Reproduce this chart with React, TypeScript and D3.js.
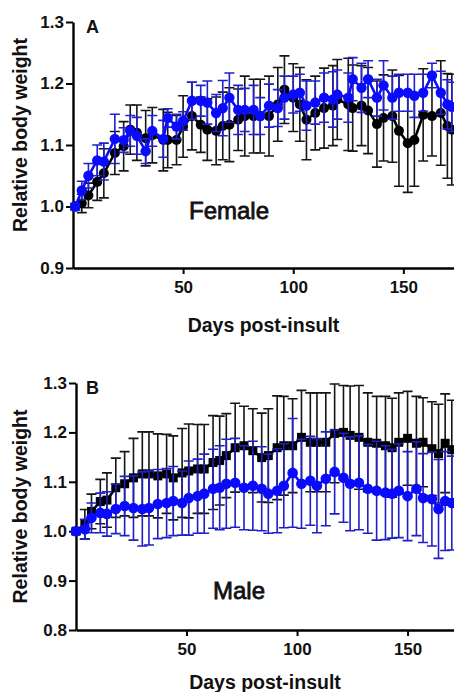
import React, { useEffect, useRef } from 'react'
import * as d3 from 'd3'

// panel A - female
const daysF = [1, 4, 7, 11, 14, 19, 23, 26, 29, 33, 36, 41, 43, 47, 50, 54, 58, 61, 65, 68, 71, 75, 78, 82, 85, 89, 93, 96, 100, 103, 106, 110, 114, 118, 120, 125, 127, 131, 134, 138, 141, 145, 148, 152, 155, 159, 163, 167, 170, 172]
const femaleBlack = [1.0, 1.005, 1.018, 1.04, 1.054, 1.087, 1.098, 1.125, 1.12, 1.111, 1.116, 1.108, 1.108, 1.108, 1.13, 1.147, 1.133, 1.125, 1.123, 1.131, 1.133, 1.141, 1.147, 1.147, 1.147, 1.147, 1.166, 1.19, 1.177, 1.166, 1.141, 1.152, 1.16, 1.164, 1.174, 1.166, 1.16, 1.164, 1.156, 1.134, 1.144, 1.147, 1.123, 1.103, 1.108, 1.149, 1.147, 1.152, 1.131, 1.125]
const femaleBlackSD = [0.005, 0.015, 0.02, 0.03, 0.04, 0.035, 0.04, 0.04, 0.045, 0.045, 0.045, 0.05, 0.045, 0.04, 0.05, 0.055, 0.045, 0.05, 0.055, 0.055, 0.06, 0.05, 0.065, 0.06, 0.06, 0.065, 0.06, 0.055, 0.055, 0.06, 0.065, 0.06, 0.065, 0.065, 0.065, 0.075, 0.07, 0.065, 0.07, 0.07, 0.07, 0.075, 0.09, 0.08, 0.075, 0.075, 0.065, 0.085, 0.085, 0.09]
const femaleBlue = [1.0, 1.026, 1.05, 1.075, 1.073, 1.11, 1.108, 1.123, 1.115, 1.09, 1.123, 1.11, 1.144, 1.13, 1.139, 1.172, 1.172, 1.169, 1.152, 1.16, 1.177, 1.157, 1.157, 1.157, 1.147, 1.164, 1.16, 1.177, 1.182, 1.185, 1.164, 1.169, 1.177, 1.174, 1.182, 1.177, 1.207, 1.193, 1.207, 1.177, 1.197, 1.177, 1.185, 1.185, 1.18, 1.185, 1.213, 1.185, 1.166, 1.162]
const femaleBlueSD = [0.005, 0.015, 0.02, 0.025, 0.03, 0.04, 0.02, 0.025, 0.03, 0.02, 0.025, 0.03, 0.015, 0.02, 0.015, 0.03, 0.025, 0.035, 0.03, 0.045, 0.04, 0.04, 0.035, 0.04, 0.03, 0.035, 0.03, 0.035, 0.03, 0.03, 0.04, 0.035, 0.04, 0.045, 0.04, 0.04, 0.035, 0.04, 0.03, 0.03, 0.04, 0.035, 0.03, 0.03, 0.035, 0.03, 0.02, 0.035, 0.04, 0.04]

// panel B - male
const daysM = [0, 4, 7, 11, 14, 18, 22, 26, 30, 33, 37, 41, 44, 48, 51, 55, 58, 62, 65, 68, 72, 76, 80, 84, 87, 91, 94, 98, 102, 106, 109, 113, 117, 121, 124, 128, 132, 136, 140, 143, 146, 150, 154, 157, 161, 164, 167, 170]
const maleBlack = [1.0, 1.014, 1.04, 1.06, 1.063, 1.088, 1.096, 1.108, 1.116, 1.116, 1.112, 1.116, 1.108, 1.118, 1.122, 1.126, 1.126, 1.139, 1.143, 1.153, 1.169, 1.173, 1.163, 1.149, 1.153, 1.169, 1.173, 1.173, 1.19, 1.18, 1.18, 1.18, 1.198, 1.2, 1.194, 1.19, 1.18, 1.178, 1.173, 1.169, 1.18, 1.188, 1.178, 1.18, 1.167, 1.157, 1.178, 1.165]
const maleBlackSD = [0.005, 0.03, 0.035, 0.045, 0.055, 0.06, 0.065, 0.08, 0.085, 0.085, 0.085, 0.08, 0.085, 0.09, 0.095, 0.09, 0.09, 0.095, 0.09, 0.085, 0.09, 0.08, 0.085, 0.09, 0.095, 0.105, 0.1, 0.095, 0.095, 0.1, 0.1, 0.1, 0.1, 0.095, 0.1, 0.105, 0.1, 0.095, 0.1, 0.1, 0.1, 0.095, 0.095, 0.09, 0.095, 0.1, 0.1, 0.1]
const maleBlue = [1.0, 1.004, 1.027, 1.037, 1.035, 1.045, 1.051, 1.047, 1.045, 1.047, 1.055, 1.057, 1.061, 1.057, 1.067, 1.071, 1.076, 1.086, 1.088, 1.096, 1.098, 1.088, 1.092, 1.086, 1.076, 1.082, 1.092, 1.118, 1.096, 1.102, 1.092, 1.106, 1.12, 1.108, 1.096, 1.098, 1.086, 1.082, 1.078, 1.076, 1.082, 1.071, 1.086, 1.067, 1.065, 1.045, 1.061, 1.057]
const maleBlueSD = [0.005, 0.02, 0.03, 0.04, 0.045, 0.05, 0.06, 0.065, 0.075, 0.075, 0.07, 0.07, 0.07, 0.065, 0.075, 0.075, 0.08, 0.08, 0.085, 0.09, 0.09, 0.085, 0.09, 0.085, 0.08, 0.085, 0.085, 0.11, 0.09, 0.09, 0.095, 0.095, 0.085, 0.09, 0.095, 0.095, 0.09, 0.1, 0.095, 0.09, 0.095, 0.09, 0.095, 0.09, 0.095, 0.1, 0.1, 0.095]

const xTicks = [50, 100, 150]
const yTicksF = [0.9, 1.0, 1.1, 1.2, 1.3]
const yTicksM = [0.8, 0.9, 1.0, 1.1, 1.2, 1.3]

const BLUE = '#0a0aff'
const font = "'Liberation Sans', Arial, sans-serif"

function drawPanel(svg, p) {
  let x = d3.scaleLinear().domain(p.xDomain).range(p.xRange)
  let y = d3.scaleLinear().domain(p.yDomain).range(p.yRange)
  let g = svg.append('g')

  // axes
  let yAxis = g.append('g')
    .attr('transform', `translate(${p.xRange[0]},0)`)
    .call(d3.axisLeft(y).tickValues(p.yTicks).tickFormat(d3.format('.1f')).tickSize(7).tickSizeOuter(0).tickPadding(2))
  let xAxis = g.append('g')
    .attr('transform', `translate(0,${p.yRange[0]})`)
    .call(d3.axisBottom(x).tickValues(xTicks).tickSize(6).tickSizeOuter(0).tickPadding(7))
  for (let ax of [yAxis, xAxis]) {
    ax.select('.domain').attr('stroke', '#000').attr('stroke-width', 2.4)
    ax.selectAll('.tick line').attr('stroke', '#000').attr('stroke-width', 2)
    ax.selectAll('.tick text')
      .attr('fill', '#111')
      .attr('font-family', font)
      .attr('font-weight', 'bold')
      .attr('font-size', 17)
  }

  // series
  for (let s of p.series) {
    let pts = p.days.map((d, i) => ({ d, v: s.values[i], sd: s.sd[i] }))
    let eb = g.append('g').attr('stroke', s.barColor).attr('stroke-width', 1.6).attr('fill', 'none')
    eb.selectAll('path').data(pts).join('path')
      .attr('d', (q) => {
        let cx = x(q.d), y0 = y(q.v - q.sd), y1 = y(q.v + q.sd)
        return `M${cx},${y0}V${y1}M${cx - 5},${y1}H${cx + 5}M${cx - 5},${y0}H${cx + 5}`
      })

    g.append('path')
      .datum(pts)
      .attr('fill', 'none')
      .attr('stroke', s.color)
      .attr('stroke-width', 2.6)
      .attr('d', d3.line().x((q) => x(q.d)).y((q) => y(q.v)))

    if (s.shape === 'square') {
      g.append('g').selectAll('rect').data(pts).join('rect')
        .attr('x', (q) => x(q.d) - 4.5)
        .attr('y', (q) => y(q.v) - 4.5)
        .attr('width', 9)
        .attr('height', 9)
        .attr('fill', s.color)
    } else {
      g.append('g').selectAll('circle').data(pts).join('circle')
        .attr('cx', (q) => x(q.d))
        .attr('cy', (q) => y(q.v))
        .attr('r', s.r)
        .attr('fill', s.color)
    }
  }

  // labels
  let cy = (p.yRange[0] + p.yRange[1]) / 2
  g.append('text')
    .attr('transform', `translate(27,${cy - p.titleShift}) rotate(-90)`)
    .attr('text-anchor', 'middle')
    .attr('font-family', font)
    .attr('font-weight', 'bold')
    .attr('font-size', 19.5)
    .attr('fill', '#111')
    .text('Relative body weight')

  g.append('text')
    .attr('x', (p.xRange[0] + p.xRange[1]) / 2)
    .attr('y', p.xTitleY)
    .attr('text-anchor', 'middle')
    .attr('font-family', font)
    .attr('font-weight', 'bold')
    .attr('font-size', 19.5)
    .attr('fill', '#111')
    .text('Days post-insult')

  g.append('text')
    .attr('x', 86)
    .attr('y', p.yRange[1] + 11)
    .attr('font-family', font)
    .attr('font-weight', 'bold')
    .attr('font-size', 18)
    .attr('fill', '#111')
    .text(p.letter)

  g.append('text')
    .attr('x', p.sexX)
    .attr('y', p.sexY)
    .attr('text-anchor', 'middle')
    .attr('font-family', font)
    .attr('font-size', 24)
    .attr('fill', '#111')
    .attr('stroke', '#111')
    .attr('stroke-width', 0.8)
    .text(p.sex)
}

function BodyWeightChart() {
  const ref = useRef(null)

  useEffect(() => {
    let svg = d3.select(ref.current)
    svg.selectAll('*').remove()

    drawPanel(svg, {
      xDomain: [0, 173], xRange: [73, 454],
      yDomain: [0.9, 1.3], yRange: [268, 22],
      yTicks: yTicksF, days: daysF,
      letter: 'A', sex: 'Female', sexX: 229, sexY: 219,
      xTitleY: 332, titleShift: 10,
      series: [
        { values: femaleBlack, sd: femaleBlackSD, color: '#000', barColor: '#151515', shape: 'circle', r: 5 },
        { values: femaleBlue, sd: femaleBlueSD, color: BLUE, barColor: '#1f1fd0', shape: 'circle', r: 5.2 },
      ],
    })

    drawPanel(svg, {
      xDomain: [0, 171], xRange: [76, 454],
      yDomain: [0.8, 1.3], yRange: [630, 383],
      yTicks: yTicksM, days: daysM,
      letter: 'B', sex: 'Male', sexX: 239, sexY: 599,
      xTitleY: 689, titleShift: 0,
      series: [
        { values: maleBlack, sd: maleBlackSD, color: '#000', barColor: '#151515', shape: 'square' },
        { values: maleBlue, sd: maleBlueSD, color: BLUE, barColor: '#1f1fc8', shape: 'circle', r: 5.3 },
      ],
    })
  }, [])

  return (
    <svg ref={ref} width={454} height={692}
      style={{ position: 'absolute', left: 0, top: 0, background: '#fff' }} />
  )
}

export default function App() {
  return <BodyWeightChart />
}
